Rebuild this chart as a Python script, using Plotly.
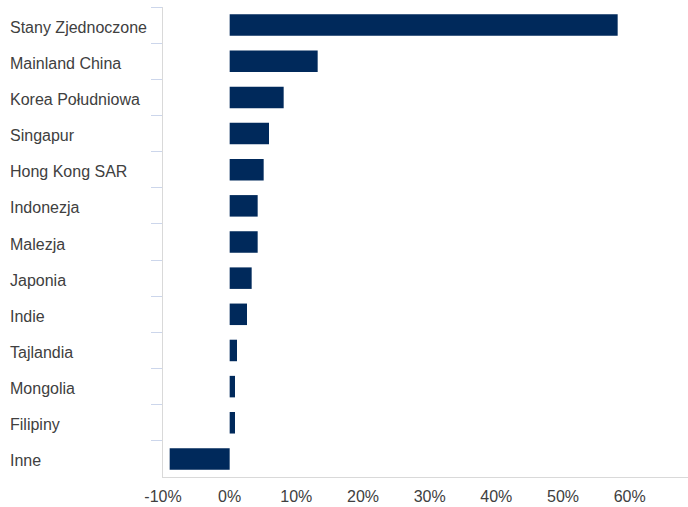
import plotly.graph_objects as go

categories = ["Stany Zjednoczone", "Mainland China", "Korea Południowa", "Singapur",
              "Hong Kong SAR", "Indonezja", "Malezja", "Japonia", "Indie",
              "Tajlandia", "Mongolia", "Filipiny", "Inne"]
values = [58.2, 13.2, 8.1, 5.9, 5.1, 4.2, 4.2, 3.3, 2.6, 1.1, 0.8, 0.8, -9.0]
x_ticks = [-10, 0, 10, 20, 30, 40, 50, 60]
x_tick_labels = ["-10%", "0%", "10%", "20%", "30%", "40%", "50%", "60%"]

W, H = 688, 507
L, R, T, B = 163, 0, 7, 30
plot_w = W - L - R
FONT = "Liberation Sans, Arial, sans-serif"

fig = go.Figure(go.Bar(
    x=values, y=categories, orientation="h",
    marker=dict(color="#00295b", line=dict(width=0)),
    hoverinfo="skip",
))

annotations = [
    dict(x=(8 - L) / plot_w, xref="paper", y=c, yref="y", text=c,
         showarrow=False, xanchor="left", yanchor="middle", yshift=-2,
         font=dict(family=FONT, size=16, color="#404040"))
    for c in categories
]

fig.update_layout(
    width=W, height=H,
    margin=dict(l=L, r=R, t=T, b=B, pad=0),
    paper_bgcolor="white", plot_bgcolor="white",
    bargap=0.405,
    showlegend=False,
    annotations=annotations,
    font=dict(family=FONT, size=16, color="#404040"),
    xaxis=dict(
        range=[-10, 68.75], tickmode="array", tickvals=x_ticks, ticktext=x_tick_labels,
        showgrid=False, zeroline=False, showline=True,
        linecolor="#d9d9d9", linewidth=1, ticks="", ticklen=0,
        ticklabelstandoff=5,
        tickfont=dict(family=FONT, size=16, color="#404040"),
    ),
    yaxis=dict(
        autorange="reversed", showticklabels=False,
        showgrid=False, zeroline=False, showline=True,
        linecolor="#d9d9d9", linewidth=1,
        ticks="outside", tickson="boundaries", ticklen=11,
        tickcolor="#ccd6eb", tickwidth=1,
    ),
)

fig.write_html("out.html", config={"displayModeBar": False},
               post_script="document.body.style.margin='0';")
